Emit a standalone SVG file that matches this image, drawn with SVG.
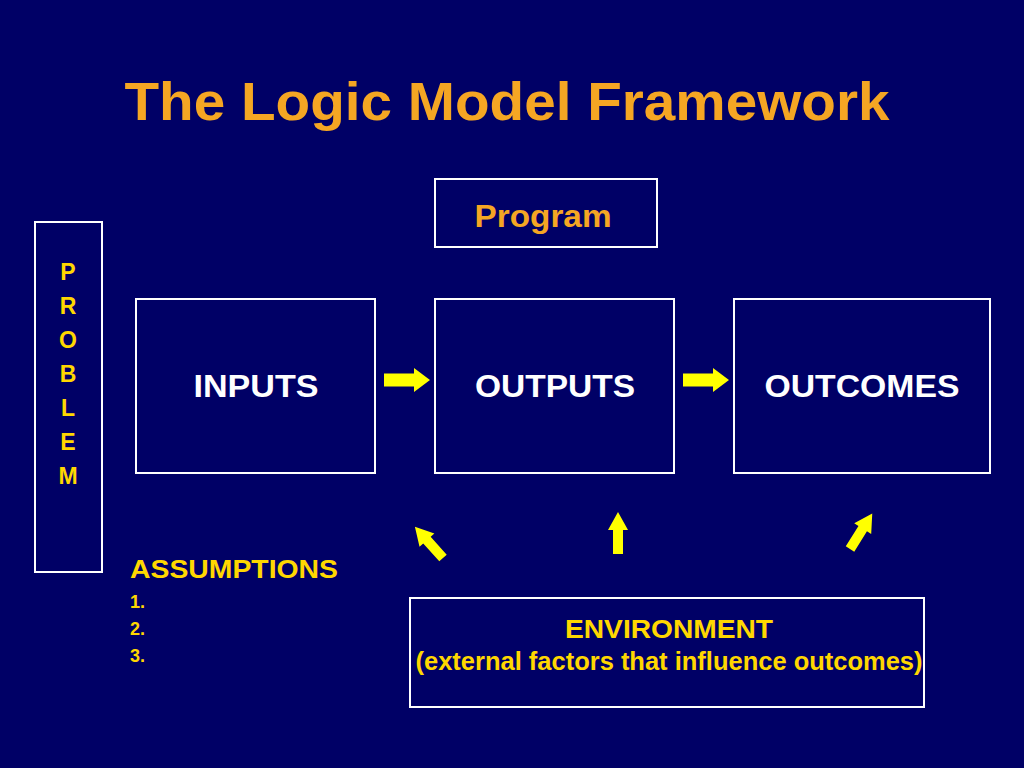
<svg xmlns="http://www.w3.org/2000/svg" xmlns:xlink="http://www.w3.org/1999/xlink" width="1024" height="768" viewBox="0 0 1024 768">
<style>
.box{fill:none;stroke:#fff;stroke-width:2}
.w{fill:#fff;font-family:"Liberation Sans",Arial,sans-serif;font-weight:bold;font-size:32px;text-anchor:middle}
.o{fill:#f5a623;font-family:"Liberation Sans",Arial,sans-serif;font-weight:bold}
.y{fill:#ffd700;font-family:"Liberation Sans",Arial,sans-serif;font-weight:bold}
.arr{fill:#ffff00}
</style>
<defs>
<polygon id="ar" points="0,-6.5 30,-6.5 30,-12 46,0 30,12 30,6.5 0,6.5"/>
<polygon id="au" points="0,-5 24,-5 24,-10 42,0 24,10 24,5 0,5"/>
</defs>
<rect width="1024" height="768" fill="#000066"/>
<text class="o" x="507" y="120" font-size="54" text-anchor="middle" textLength="765" lengthAdjust="spacingAndGlyphs">The Logic Model Framework</text>
<g id="program"><rect class="box" x="435" y="179" width="222" height="68"/><text class="o" x="543" y="227" font-size="31" text-anchor="middle" textLength="137" lengthAdjust="spacingAndGlyphs">Program</text></g>
<g id="problem"><rect class="box" x="35" y="222" width="67" height="350"/>
<text class="y" font-size="23" text-anchor="middle"><tspan x="68" y="280">P</tspan><tspan x="68" y="314">R</tspan><tspan x="68" y="348">O</tspan><tspan x="68" y="382">B</tspan><tspan x="68" y="416">L</tspan><tspan x="68" y="450">E</tspan><tspan x="68" y="484">M</tspan></text></g>
<g id="inputs"><rect class="box" x="136" y="299" width="239" height="174"/><text class="w" x="256" y="397" textLength="125" lengthAdjust="spacingAndGlyphs">INPUTS</text></g>
<g id="outputs"><rect class="box" x="435" y="299" width="239" height="174"/><text class="w" x="555" y="397" textLength="160" lengthAdjust="spacingAndGlyphs">OUTPUTS</text></g>
<g id="outcomes"><rect class="box" x="734" y="299" width="256" height="174"/><text class="w" x="862" y="397" textLength="195" lengthAdjust="spacingAndGlyphs">OUTCOMES</text></g>
<g id="assumptions"><text class="y" font-size="25" x="130" y="578" textLength="208" lengthAdjust="spacingAndGlyphs">ASSUMPTIONS</text>
<text class="y" font-size="18"><tspan x="130" y="608">1.</tspan><tspan x="130" y="635">2.</tspan><tspan x="130" y="662">3.</tspan></text></g>
<g id="environment"><rect class="box" x="410" y="598" width="514" height="109" stroke-width="1"/>
<text class="y" x="669" y="638" font-size="25" text-anchor="middle" textLength="208" lengthAdjust="spacingAndGlyphs">ENVIRONMENT</text>
<text class="y" x="669" y="670" font-size="25" text-anchor="middle" textLength="507" lengthAdjust="spacingAndGlyphs">(external factors that influence outcomes)</text></g>
<g id="connectors" class="arr">
<use xlink:href="#ar" transform="translate(384,380)"/>
<use xlink:href="#ar" transform="translate(683,380)"/>
<use xlink:href="#au" transform="translate(443,558) rotate(-132)"/>
<use xlink:href="#au" transform="translate(618,554) rotate(-90)"/>
<use xlink:href="#au" transform="translate(850,549) rotate(-58)"/>
</g>
</svg>
